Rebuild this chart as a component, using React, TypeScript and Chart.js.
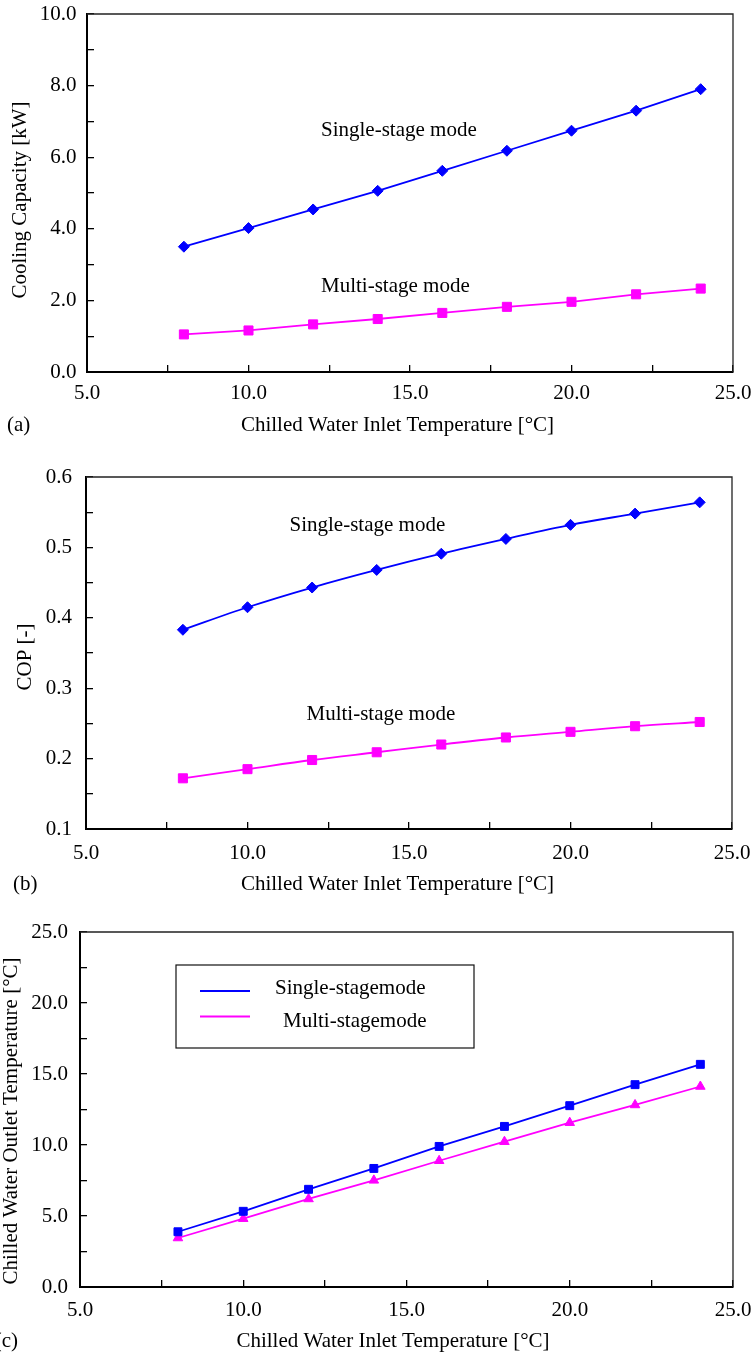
import React, { useEffect, useRef } from "react";
import { Chart, registerables } from "chart.js";

Chart.register(...registerables);

// ---------- data ----------
const inletTemp = [8, 10, 12, 14, 16, 18, 20, 22, 24];

const capacitySingle = [3.5, 4.02, 4.54, 5.06, 5.62, 6.18, 6.74, 7.3, 7.9];
const capacityMulti = [1.05, 1.16, 1.33, 1.48, 1.65, 1.82, 1.96, 2.17, 2.33];

const copSingle = [0.383, 0.415, 0.443, 0.468, 0.491, 0.512, 0.532, 0.548, 0.564];
const copMulti = [0.172, 0.185, 0.198, 0.209, 0.22, 0.23, 0.238, 0.246, 0.252];

const outletSingle = [3.89, 5.33, 6.88, 8.35, 9.9, 11.31, 12.77, 14.25, 15.68];
const outletMulti = [3.45, 4.81, 6.2, 7.51, 8.89, 10.23, 11.57, 12.82, 14.12];

const seriesNames = ["Single-stage mode", "Multi-stage mode"];
const legendNames = ["Single-stagemode", "Multi-stagemode"];
const xTitle = "Chilled Water Inlet Temperature [°C]";
const yTitles = ["Cooling Capacity [kW]", "COP [-]", "Chilled Water Outlet Temperature [°C]"];
const panelTags = ["(a)", "(b)", "(c)"];

const BLUE = "#0000ff";
const MAGENTA = "#ff00ff";
const FONT_FAMILY = '"Liberation Serif", "Times New Roman", serif';
const FONT = `21px ${FONT_FAMILY}`;

type Txt = { text: string; x: number; y: number; align?: CanvasTextAlign; baseline?: CanvasTextBaseline; rotate?: boolean };
type Leg = { box: [number, number, number, number]; rows: { label: string; color: string; y: number; lineX: [number, number]; textX: number; textY: number }[] };

function pts(xs: number[], ys: number[]) {
  return xs.map((x, i) => ({ x, y: ys[i] }));
}

function decorPlugin(canvasTop: number, texts: Txt[], legend?: Leg) {
  return {
    id: "decor",
    afterDraw(chart: any) {
      const { ctx, chartArea: a } = chart;
      ctx.save();
      // top & right frame
      ctx.strokeStyle = "#222";
      ctx.lineWidth = 1.3;
      ctx.beginPath();
      ctx.moveTo(a.left, a.top);
      ctx.lineTo(a.right, a.top);
      ctx.lineTo(a.right, a.bottom);
      ctx.stroke();
      ctx.fillStyle = "#000";
      ctx.font = FONT;
      for (const t of texts) {
        const y = t.y - canvasTop;
        if (t.rotate) {
          ctx.save();
          ctx.translate(t.x, y);
          ctx.rotate(-Math.PI / 2);
          ctx.textAlign = "center";
          ctx.textBaseline = "middle";
          ctx.fillText(t.text, 0, 0);
          ctx.restore();
        } else {
          ctx.textAlign = t.align || "left";
          ctx.textBaseline = t.baseline || "alphabetic";
          ctx.fillText(t.text, t.x, y);
        }
      }
      if (legend) {
        const [x0, y0, x1, y1] = legend.box;
        ctx.strokeStyle = "#111";
        ctx.lineWidth = 1.2;
        ctx.strokeRect(x0, y0 - canvasTop, x1 - x0, y1 - y0);
        for (const r of legend.rows) {
          ctx.strokeStyle = r.color;
          ctx.lineWidth = 1.8;
          ctx.beginPath();
          ctx.moveTo(r.lineX[0], r.y - canvasTop);
          ctx.lineTo(r.lineX[1], r.y - canvasTop);
          ctx.stroke();
          ctx.fillStyle = "#000";
          ctx.textAlign = "left";
          ctx.textBaseline = "alphabetic";
          ctx.fillText(r.label, r.textX, r.textY - canvasTop);
        }
      }
      ctx.restore();
    },
  };
}

type PanelSpec = {
  top: number;
  height: number;
  plot: { left: number; top: number; right: number; bottom: number };
  yMin: number;
  yMax: number;
  yStep: number;
  yLabelEvery: number;
  yLabelPad: number;
  xLabelPad: number;
  datasets: any[];
  texts: Txt[];
  legend?: Leg;
};

function zeroPad(s: any) {
  s.paddingTop = 0;
  s.paddingBottom = 0;
  s.paddingLeft = 0;
  s.paddingRight = 0;
}

function buildConfig(p: PanelSpec): any {
  const tick = (every: number) => (v: number) => {
    const r = v / every;
    return Math.abs(r - Math.round(r)) < 1e-6 ? Number(v).toFixed(1) : "";
  };
  const fontObj = { family: FONT_FAMILY, size: 21 };
  return {
    type: "line",
    data: { datasets: p.datasets },
    options: {
      responsive: false,
      animation: false,
      devicePixelRatio: 1,
      layout: {
        padding: { left: 0, top: p.plot.top - p.top, right: 755 - p.plot.right, bottom: 0 },
      },
      plugins: { legend: { display: false }, tooltip: { enabled: false } },
      scales: {
        x: {
          type: "linear",
          min: 5,
          max: 25,
          afterFit: (s: any) => {
            s.height = p.top + p.height - p.plot.bottom;
            zeroPad(s);
          },
          ticks: {
            stepSize: 2.5,
            autoSkip: false,
            maxRotation: 0,
            color: "#000",
            font: fontObj,
            padding: p.xLabelPad,
            callback: tick(5),
          },
          grid: { drawOnChartArea: false, drawTicks: true, tickLength: -7, color: "#000", lineWidth: 1.3 },
          border: { display: true, color: "#000", width: 2 },
        },
        y: {
          type: "linear",
          min: p.yMin,
          max: p.yMax,
          afterFit: (s: any) => {
            s.width = p.plot.left;
            zeroPad(s);
          },
          ticks: {
            stepSize: p.yStep,
            autoSkip: false,
            color: "#000",
            font: fontObj,
            padding: p.yLabelPad,
            callback: tick(p.yLabelEvery),
          },
          grid: { drawOnChartArea: false, drawTicks: true, tickLength: -7, color: "#000", lineWidth: 1.3 },
          border: { display: true, color: "#000", width: 2 },
        },
      },
    },
    plugins: [decorPlugin(p.top, p.texts, p.legend)],
  };
}

function series(label: string, ys: number[], color: string, pointStyle: string, r: number, tension = 0) {
  return {
    label,
    data: pts(inletTemp, ys),
    borderColor: color,
    backgroundColor: color,
    pointBackgroundColor: color,
    pointBorderColor: color,
    pointStyle,
    pointRadius: r,
    pointBorderWidth: 1,
    borderWidth: 1.8,
    tension,
    cubicInterpolationMode: tension ? "monotone" : "default",
  };
}

const panels: PanelSpec[] = [
  {
    top: 0,
    height: 445,
    plot: { left: 87, top: 14, right: 733, bottom: 372 },
    yMin: 0,
    yMax: 10,
    yStep: 1,
    yLabelEvery: 2,
    yLabelPad: 17.5,
    xLabelPad: 15.5,
    datasets: [
      series(seriesNames[0], capacitySingle, BLUE, "rectRot", 5.5),
      series(seriesNames[1], capacityMulti, MAGENTA, "rect", 6.4),
    ],
    texts: [
      { text: seriesNames[0], x: 321, y: 136 },
      { text: seriesNames[1], x: 321, y: 292 },
      { text: xTitle, x: 397.5, y: 425, align: "center", baseline: "middle" },
      { text: panelTags[0], x: 7, y: 425, baseline: "middle" },
      { text: yTitles[0], x: 20, y: 200, rotate: true },
    ],
  },
  {
    top: 450,
    height: 450,
    plot: { left: 86, top: 477, right: 732, bottom: 829 },
    yMin: 0.1,
    yMax: 0.6,
    yStep: 0.05,
    yLabelEvery: 0.1,
    yLabelPad: 21,
    xLabelPad: 18.4,
    datasets: [
      series(seriesNames[0], copSingle, BLUE, "rectRot", 5.5, 0.3),
      series(seriesNames[1], copMulti, MAGENTA, "rect", 6.4, 0.3),
    ],
    texts: [
      { text: seriesNames[0], x: 289.5, y: 531 },
      { text: seriesNames[1], x: 306.5, y: 720 },
      { text: xTitle, x: 397.5, y: 884, align: "center", baseline: "middle" },
      { text: panelTags[1], x: 13, y: 884, baseline: "middle" },
      { text: yTitles[1], x: 25, y: 657, rotate: true },
    ],
  },
  {
    top: 900,
    height: 455,
    plot: { left: 80, top: 932, right: 733, bottom: 1287 },
    yMin: 0,
    yMax: 25,
    yStep: 2.5,
    yLabelEvery: 5,
    yLabelPad: 19,
    xLabelPad: 17.4,
    datasets: [
      series(legendNames[0], outletSingle, BLUE, "rect", 5.6),
      series(legendNames[1], outletMulti, MAGENTA, "triangle", 5.5),
    ],
    texts: [
      { text: xTitle, x: 393, y: 1341, align: "center", baseline: "middle" },
      { text: panelTags[2], x: 18, y: 1341, align: "right", baseline: "middle" },
      { text: yTitles[2], x: 11, y: 1121, rotate: true },
    ],
    legend: {
      box: [176, 965, 474, 1048],
      rows: [
        { label: legendNames[0], color: BLUE, y: 991, lineX: [200, 250], textX: 275, textY: 994 },
        { label: legendNames[1], color: MAGENTA, y: 1016.5, lineX: [200, 250], textX: 283, textY: 1026.5 },
      ],
    },
  },
];

function Panel({ spec }: { spec: PanelSpec }) {
  const ref = useRef<HTMLCanvasElement>(null);
  useEffect(() => {
    if (!ref.current) return;
    const chart = new Chart(ref.current, buildConfig(spec));
    return () => chart.destroy();
  }, [spec]);
  return (
    <canvas
      ref={ref}
      width={755}
      height={spec.height}
      style={{ position: "absolute", left: 0, top: spec.top, width: 755, height: spec.height }}
    />
  );
}

export default function App() {
  return (
    <div style={{ position: "absolute", left: 0, top: 0, width: 755, height: 1355, background: "#fff", overflow: "hidden" }}>
      {panels.map((p, i) => (
        <Panel key={i} spec={p} />
      ))}
    </div>
  );
}
